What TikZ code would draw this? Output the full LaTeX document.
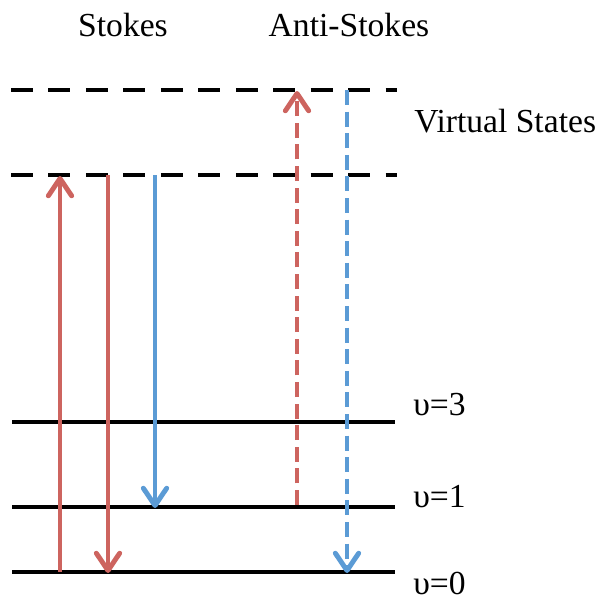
\documentclass[tikz,border=0pt]{standalone}
\usepackage{fontspec}
\setmainfont{Liberation Serif}
\usetikzlibrary{arrows.meta}
\definecolor{redar}{RGB}{205,100,95}
\definecolor{bluear}{RGB}{91,155,213}
\begin{document}
\begin{tikzpicture}[x=0.75pt,y=-0.75pt,
  level/.style={line width=3.2pt,black},
  vlevel/.style={line width=3.4pt,black,dash pattern=on 16.5pt off 11.6pt},
  tr/.style={line width=3.7pt,line cap=butt,-{Straight Barb[length=13pt,width=17.5pt,line width=3.7pt,round]}},
  dsh/.style={dash pattern=on 11.2pt off 5pt},
  lbl/.style={font=\fontsize{25.2}{30}\selectfont,inner sep=0pt}]
\useasboundingbox (0,0) rectangle (602,601);
% levels
\coordinate (v1l) at (11,90);  \coordinate (v1r) at (397,90);
\coordinate (v2l) at (11,175); \coordinate (v2r) at (397,175);
\coordinate (l3l) at (12,422); \coordinate (l3r) at (395,422);
\coordinate (l1l) at (12,507); \coordinate (l1r) at (395,507);
\coordinate (l0l) at (12,572); \coordinate (l0r) at (395,572);
\draw[vlevel] (v1l) -- (v1r);
\draw[vlevel] (v2l) -- (v2r);
\draw[level] (l3l) -- (l3r);
\draw[level] (l1l) -- (l1r);
\draw[level] (l0l) -- (l0r);
% arrow end points
\coordinate (a1s) at (60,572);  \coordinate (a1e) at (60,176);
\coordinate (a2s) at (108,175); \coordinate (a2e) at (108,573);
\coordinate (a3s) at (155,175); \coordinate (a3e) at (155,508);
\coordinate (a4s) at (297,505); \coordinate (a4e) at (297,91);
\coordinate (a5s) at (347,90);  \coordinate (a5e) at (347,573);
\draw[tr,redar] (a1s) -- (a1e);
\draw[tr,redar] (a2s) -- (a2e);
\draw[tr,bluear] (a3s) -- (a3e);
\draw[tr,redar,dsh] (a4s) -- (a4e);
\draw[tr,bluear,dsh] (a5s) -- (a5e);
% labels
\node[lbl] (stokes) at (123,25) {Stokes};
\node[lbl] (astokes) at (349,25) {Anti-Stokes};
\node[lbl,anchor=west] (virt) at (414,121) {Virtual States};
\node[lbl,anchor=west] (n3) at (413,405) {υ=3};
\node[lbl,anchor=west] (n1) at (413,497) {υ=1};
\node[lbl,anchor=west] (n0) at (413,583) {υ=0};
\end{tikzpicture}
\end{document}
